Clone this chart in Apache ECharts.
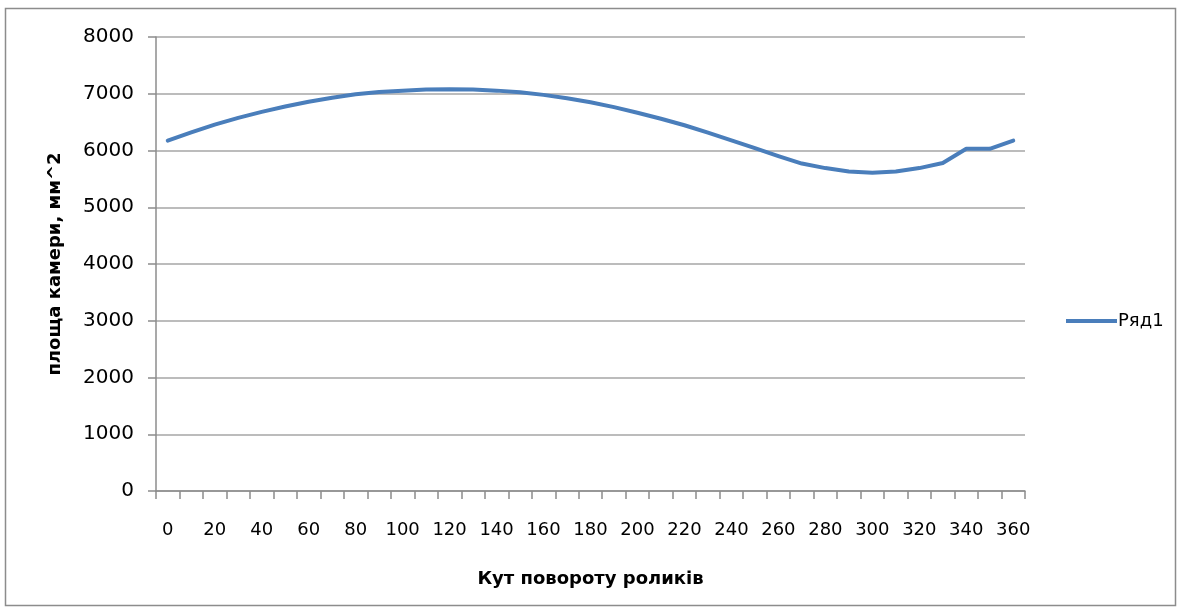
<!DOCTYPE html>
<html>
<head>
<meta charset="utf-8">
<script src="https://cdn.jsdelivr.net/npm/echarts@6/dist/echarts.min.js"></script>
<style>
  html, body { margin: 0; padding: 0; background: #fff; }
  #chart { width: 1182px; height: 614px; }
</style>
</head>
<body>
<div id="chart"></div>
<script>
// Rotation angle of the rollers, degrees
const angles = [0, 10, 20, 30, 40, 50, 60, 70, 80, 90, 100, 110, 120, 130, 140, 150, 160, 170, 180,
                190, 200, 210, 220, 230, 240, 250, 260, 270, 280, 290, 300, 310, 320, 330, 340, 350, 360];
// Chamber area, mm^2
const area = [6175, 6320, 6455, 6575, 6680, 6775, 6860, 6930, 6990, 7030, 7055, 7075, 7080, 7075,
              7055, 7025, 6980, 6920, 6850, 6765, 6665, 6560, 6445, 6315, 6180, 6040, 5900, 5770,
              5690, 5630, 5610, 5630, 5690, 5780, 6030, 6030, 6175];
const seriesName = 'Ряд1';
const xTitle = 'Кут повороту роликів';
const yTitle = 'площа камери, мм^2';

const chart = echarts.init(document.getElementById('chart'));
const font = 'DejaVu Sans';
chart.setOption({
  animation: false,
  backgroundColor: '#fff',
  graphic: [{
    type: 'rect',
    shape: { x: 5.5, y: 8.5, width: 1170, height: 597 },
    style: { fill: 'none', stroke: '#8c8c8c', lineWidth: 1.5 },
    silent: true
  }],
  grid: { left: 156, right: 157, top: 37, bottom: 123 },
  legend: {
    data: [seriesName],
    orient: 'vertical',
    left: 1061,
    top: 307,
    icon: 'rect',
    itemWidth: 51,
    itemHeight: 4,
    itemGap: 4,
    itemStyle: { color: '#4a7ebb' },
    textStyle: { fontFamily: font, fontSize: 18, color: '#000', padding: [0, 0, 0, -4] }
  },
  xAxis: {
    type: 'category',
    data: angles,
    boundaryGap: true,
    name: xTitle,
    nameLocation: 'middle',
    nameGap: 79,
    nameTextStyle: { fontFamily: font, fontSize: 18, fontWeight: 'bold', color: '#000' },
    axisLine: { lineStyle: { color: '#8c8c8c', width: 1.5 } },
    axisTick: { show: true, interval: 0, length: 8, lineStyle: { color: '#8c8c8c', width: 1.5 } },
    axisLabel: { interval: 1, margin: 30, fontFamily: font, fontSize: 18, color: '#000' },
    splitLine: { show: false }
  },
  yAxis: {
    type: 'value',
    min: 0,
    max: 8000,
    interval: 1000,
    name: yTitle,
    nameLocation: 'middle',
    nameGap: 92,
    nameTextStyle: { fontFamily: font, fontSize: 18, fontWeight: 'bold', color: '#000' },
    axisLine: { show: true, lineStyle: { color: '#8c8c8c', width: 1.5 } },
    axisTick: { show: true, length: 8, lineStyle: { color: '#8c8c8c', width: 1.5 } },
    axisLabel: { margin: 22, fontFamily: font, fontSize: 20, color: '#000', formatter: (v) => String(v) },
    splitLine: { lineStyle: { color: '#a6a6a6', width: 1.5 } }
  },
  series: [{
    name: seriesName,
    type: 'line',
    data: area,
    symbol: 'none',
    smooth: false,
    lineStyle: { color: '#4a7ebb', width: 4, cap: 'round', join: 'round' },
    itemStyle: { color: '#4a7ebb' }
  }]
});
</script>
</body>
</html>
